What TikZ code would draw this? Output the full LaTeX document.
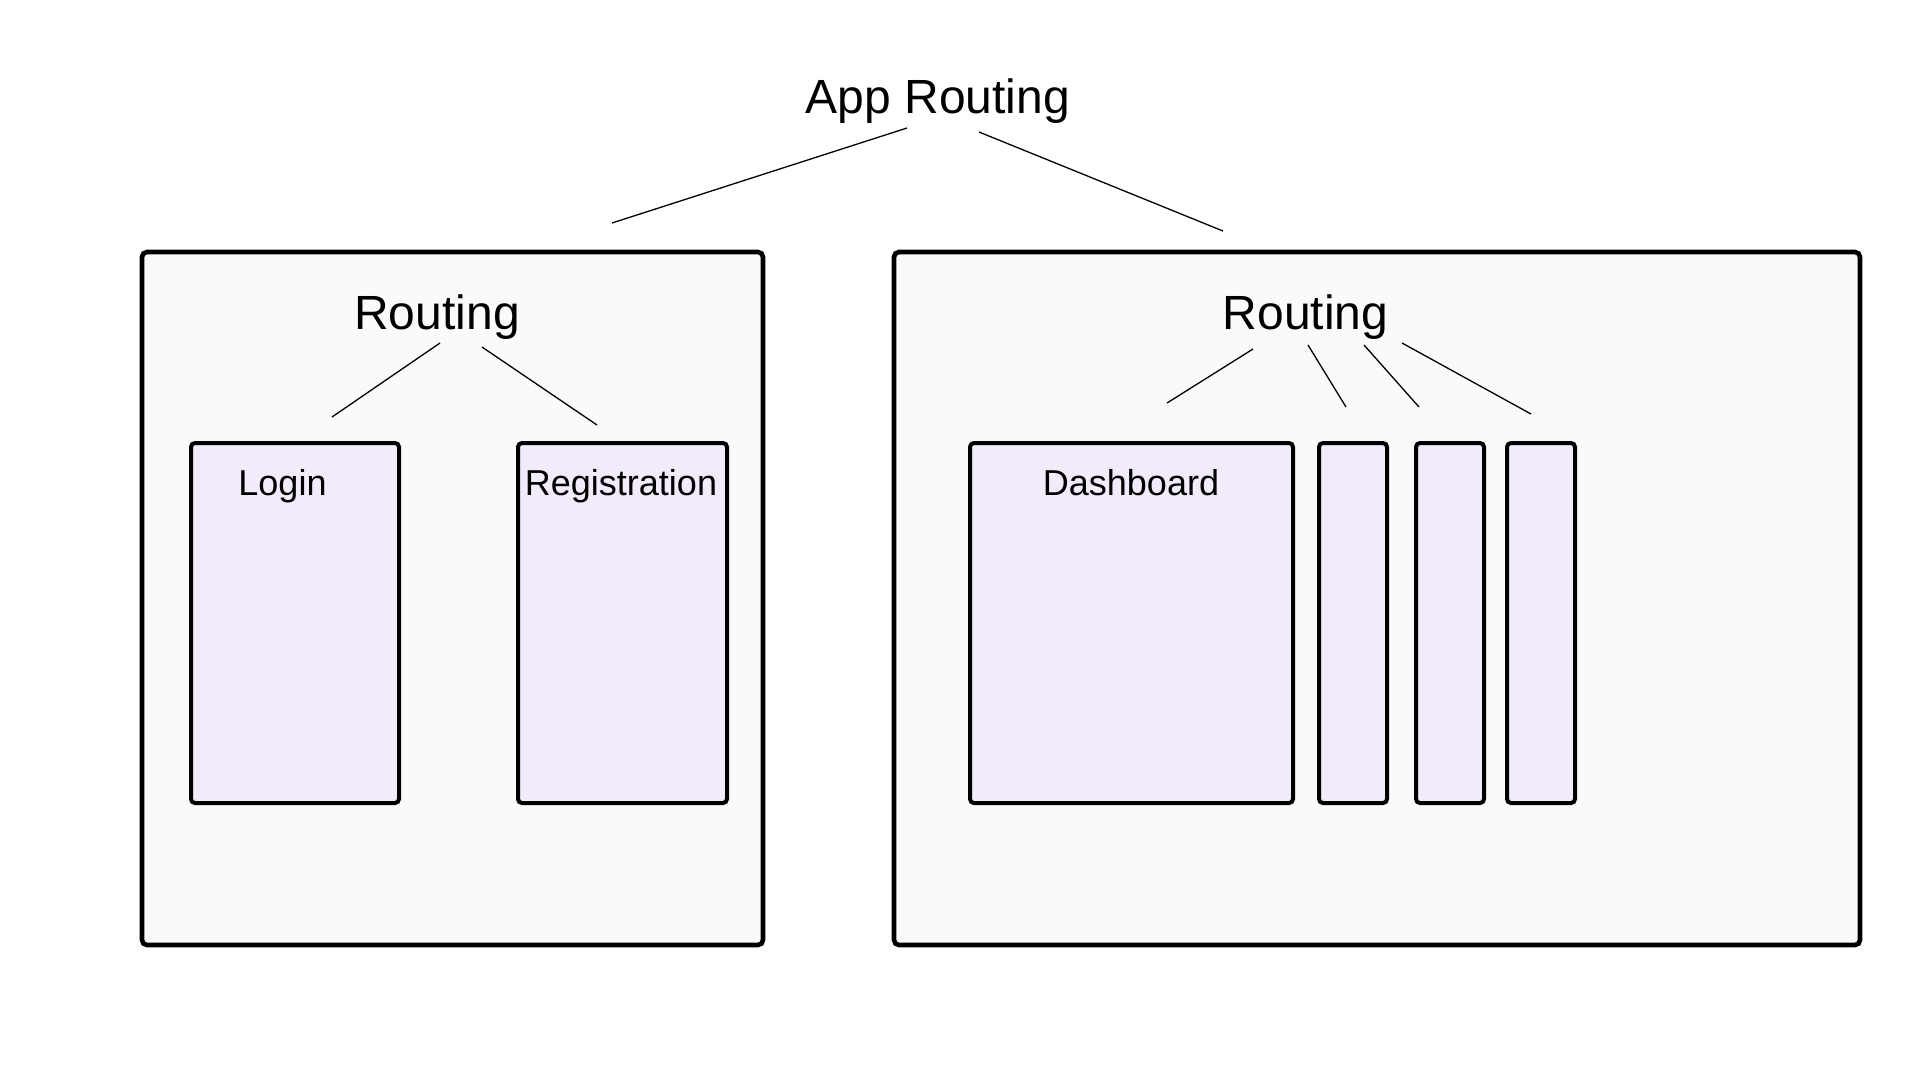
\documentclass[tikz,border=0pt]{standalone}
\usepackage{fontspec}
\setmainfont{Liberation Sans}
\definecolor{outerfill}{HTML}{FAFAFA}
\definecolor{innerfill}{HTML}{F2EBFA}
\begin{document}
\begin{tikzpicture}[x=1pt,y=-1pt,
  outerbox/.style={draw=black, fill=outerfill, line width=4.6pt, rounded corners=5pt, inner sep=0pt, outer sep=0pt},
  innerbox/.style={draw=black, fill=innerfill, line width=4pt, rounded corners=4pt, inner sep=0pt, outer sep=0pt},
  bigtext/.style={anchor=base, inner sep=0pt, font=\fontsize{48}{57}\selectfont},
  smalltext/.style={anchor=base, inner sep=0pt, font=\fontsize{36}{43}\selectfont},
  link/.style={draw=black, line width=1.3pt}]
\useasboundingbox[fill=white] (0,0) rectangle (1920,1080);

% outer containers
\node[outerbox, minimum width=621pt, minimum height=693pt] (leftbox) at (452.5,598.5) {};
\node[outerbox, minimum width=966pt, minimum height=693pt] (rightbox) at (1377,598.5) {};

% inner boxes
\node[innerbox, minimum width=208pt, minimum height=360pt] (login) at (295,623) {};
\node[innerbox, minimum width=209pt, minimum height=360pt] (reg) at (622.5,623) {};
\node[innerbox, minimum width=323pt, minimum height=360pt] (dash) at (1131.5,623) {};
\node[innerbox, minimum width=68pt, minimum height=360pt] (s1) at (1353,623) {};
\node[innerbox, minimum width=68pt, minimum height=360pt] (s2) at (1450,623) {};
\node[innerbox, minimum width=68pt, minimum height=360pt] (s3) at (1541,623) {};

% texts
\node[bigtext] (app) at (938,113) {App Routing};
\node[bigtext] (lrouting) at (437,329) {Routing};
\node[bigtext] (rrouting) at (1305.5,329) {Routing};
\node[smalltext] (logintxt) at (282.5,495) {Login};
\node[smalltext] (regtxt) at (621,495) {Registration};
\node[smalltext] (dashtxt) at (1131,495) {Dashboard};

% connector end points
\coordinate (a1s) at (907,128);  \coordinate (a1e) at (612,223);
\coordinate (a2s) at (979,132);  \coordinate (a2e) at (1223,231);
\coordinate (l1s) at (440,343);  \coordinate (l1e) at (332,417);
\coordinate (l2s) at (482,347);  \coordinate (l2e) at (597,425);
\coordinate (r1s) at (1253,349); \coordinate (r1e) at (1167,403);
\coordinate (r2s) at (1308,345); \coordinate (r2e) at (1346,407);
\coordinate (r3s) at (1364,345); \coordinate (r3e) at (1419,407);
\coordinate (r4s) at (1402,343); \coordinate (r4e) at (1531,414);

\draw[link] (a1s) -- (a1e);
\draw[link] (a2s) -- (a2e);
\draw[link] (l1s) -- (l1e);
\draw[link] (l2s) -- (l2e);
\draw[link] (r1s) -- (r1e);
\draw[link] (r2s) -- (r2e);
\draw[link] (r3s) -- (r3e);
\draw[link] (r4s) -- (r4e);
\end{tikzpicture}
\end{document}
